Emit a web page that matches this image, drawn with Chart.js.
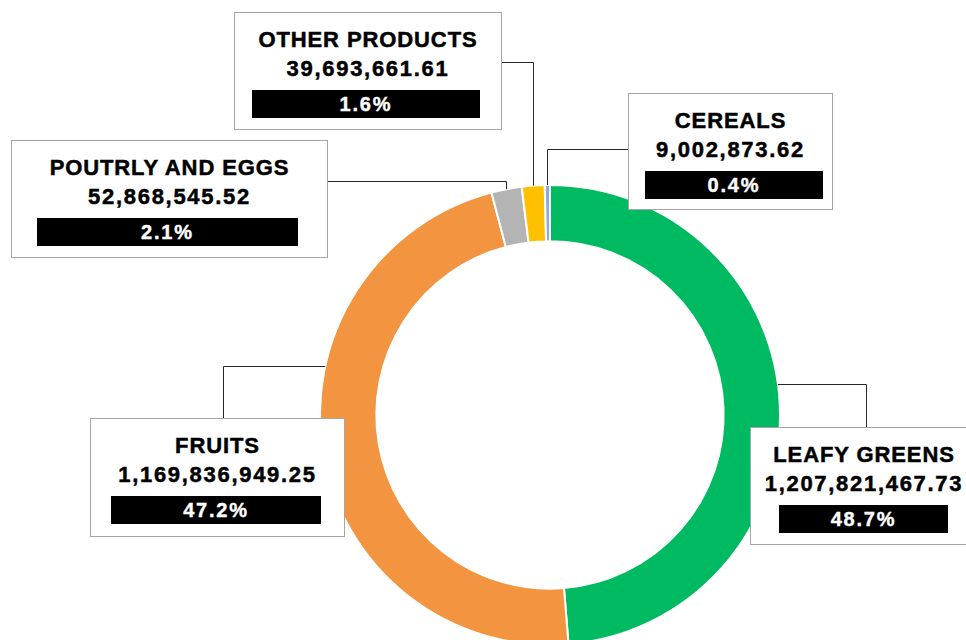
<!DOCTYPE html>
<html>
<head>
<meta charset="utf-8">
<script src="https://cdn.jsdelivr.net/npm/chart.js@4.4.1/dist/chart.umd.min.js"></script>
<style>
  html, body { margin: 0; padding: 0; background: #fff; overflow: hidden; }
  #wrap { position: relative; width: 966px; height: 640px; overflow: hidden; }
  #chart { position: absolute; left: 0; top: 0; }
  .box {
    position: absolute; background: #fff; border: 1px solid #a6a6a6;
    box-sizing: border-box; font-family: 'Liberation Sans', Arial, sans-serif;
    font-weight: bold; color: #000; text-align: center;
  }
  .box .t, .box .v { position: absolute; left: 0; right: 0; font-size: 22px; line-height: 24px; -webkit-text-stroke: 0.5px #000; }
  .box .t { top: 15px; letter-spacing: 0.9px; }
  .box .v { top: 44px; letter-spacing: 1.7px; }
  .box .p { position: absolute; top: 77px; height: 28px; line-height: 28px; background: #000; color: #fff;
            font-size: 20px; letter-spacing: 1.8px; -webkit-text-stroke: 0.4px #fff; }
</style>
</head>
<body>
<div id="wrap">
  <canvas id="chart" width="966" height="700"></canvas>
</div>
<script>
// ── Data ───────────────────────────────────────────────────────
const categories = ['LEAFY GREENS', 'FRUITS', 'POUTRLY AND EGGS', 'OTHER PRODUCTS', 'CEREALS'];
const values     = [1207821467.73, 1169836949.25, 52868545.52, 39693661.61, 9002873.62];
const colors     = ['#00BA62', '#F39441', '#B4B4B4', '#FFC000', '#8FAADC'];

// ── Callout layout (box + leader) ──────────────────────────────
// side 'h': horizontal leader from ring at y=elbow, to x=end, then down to box top
// side 'v': vertical leader from slice middle up to y=elbow, then across to x=end
const callouts = [
  { box: [750, 427, 228, 118], bar: [29, 169], leader: { side: 'h', elbow: 384, end: 866, to: 427 } },
  { box: [90, 418, 255, 119],  bar: [21, 210], leader: { side: 'h', elbow: 366, end: 223, to: 418 } },
  { box: [11, 140, 317, 118],  bar: [26, 261], leader: { side: 'v', elbow: 181, end: 328 } },
  { box: [234, 12, 268, 118],  bar: [18, 228], leader: { side: 'v', elbow: 62,  end: 502 } },
  { box: [628, 93, 205, 117],  bar: [17, 178], leader: { side: 'v', elbow: 149, end: 628 } },
];

const total = values.reduce((a, b) => a + b, 0);
const fmtNum = (v) => v.toLocaleString('en-US', { minimumFractionDigits: 2, maximumFractionDigits: 2 });
const fmtPct = (v) => (v / total * 100).toFixed(1) + '%';

// ── Boxes as HTML text ─────────────────────────────────────────
const wrap = document.getElementById('wrap');
categories.forEach((name, i) => {
  const [x, y, w, h] = callouts[i].box;
  const [bx, bw] = callouts[i].bar;
  const el = document.createElement('div');
  el.className = 'box';
  el.style.cssText = `left:${x}px;top:${y}px;width:${w}px;height:${h}px;`;
  el.innerHTML = `
    <div class="t">${name}</div>
    <div class="v">${fmtNum(values[i])}</div>
    <div class="p" style="left:${bx - 1}px;width:${bw}px;">${fmtPct(values[i])}</div>`;
  wrap.appendChild(el);
});

// ── Leader lines, from the arc elements ────────────────────────
const leaderPlugin = {
  id: 'leaders',
  afterDatasetsDraw(chart) {
    const { ctx } = chart;
    const arcs = chart.getDatasetMeta(0).data;
    ctx.save();
    ctx.strokeStyle = '#262626';
    ctx.lineWidth = 1;
    arcs.forEach((arc, i) => {
      const { x, y, startAngle, endAngle, outerRadius } = arc.getProps(['x', 'y', 'startAngle', 'endAngle', 'outerRadius']);
      const L = callouts[i].leader;
      ctx.beginPath();
      if (L.side === 'v') {
        const mid = (startAngle + endAngle) / 2;
        const px = Math.round(x + outerRadius * Math.cos(mid)) + 0.5;
        const py = y + outerRadius * Math.sin(mid);
        ctx.moveTo(px, py);
        ctx.lineTo(px, L.elbow + 0.5);
        ctx.lineTo(L.end, L.elbow + 0.5);
      } else {
        const dy = L.elbow - y;
        const dx = Math.sqrt(Math.max(outerRadius * outerRadius - dy * dy, 0));
        const px = L.end > x ? x + dx : x - dx;
        ctx.moveTo(px, L.elbow + 0.5);
        ctx.lineTo(L.end + 0.5, L.elbow + 0.5);
        ctx.lineTo(L.end + 0.5, L.to);
      }
      ctx.stroke();
    });
    ctx.restore();
  },
};

new Chart(document.getElementById('chart'), {
  type: 'doughnut',
  data: {
    labels: categories,
    datasets: [{
      data:            values,
      backgroundColor: colors,
      borderColor:     '#ffffff',
      borderWidth:     2,
      hoverOffset:     0,
    }],
  },
  options: {
    responsive: false,
    animation:  false,
    cutout:     '75.5%',
    layout: { padding: { left: 319, right: 185, top: 184, bottom: 54 } },
    plugins: {
      legend:  { display: false },
      tooltip: { enabled: false },
    },
  },
  plugins: [leaderPlugin],
});
</script>
</body>
</html>
